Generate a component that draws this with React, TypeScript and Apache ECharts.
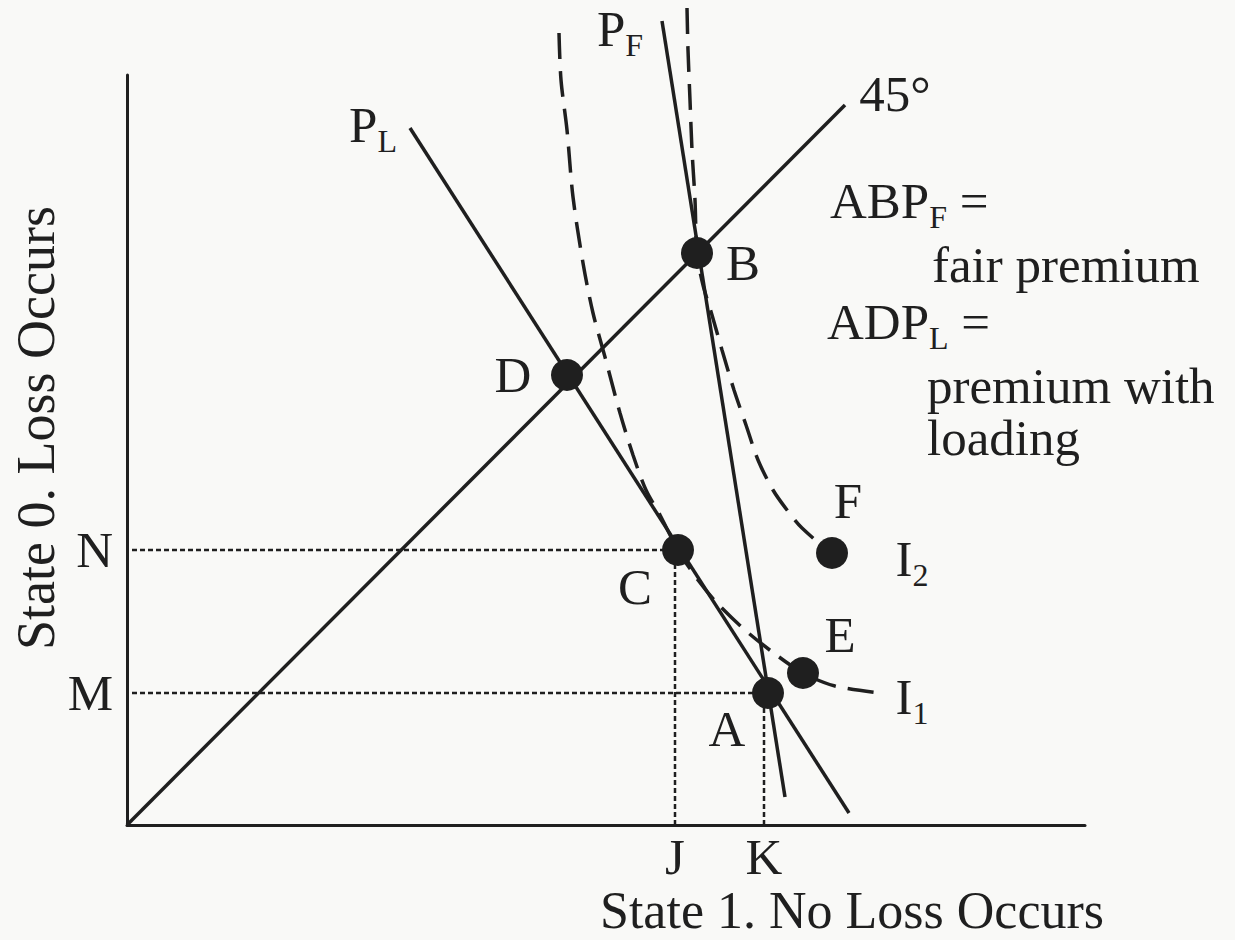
import React, { useEffect, useRef } from 'react';
import * as echarts from 'echarts';

// ---- data (chart units: x = state 1 wealth, y = state 0 wealth) ----
const X_MAX = 958;
const Y_MAX = 750;

const X_TICK_VALUES = [548, 637];
const X_TICK_LABELS = ['J', 'K'];
const Y_TICK_VALUES = [275, 132];
const Y_TICK_LABELS = ['N', 'M'];

const LINE_45_X = [0, 718];
const LINE_45_Y = [0, 720];
const PL_X = [283, 722];
const PL_Y = [697, 12];
const PF_X = [535, 658];
const PF_Y = [804, 28];

const I1_X = [432, 434, 440, 446, 456, 466, 478, 493, 506, 519, 533, 551, 571, 590, 618, 648, 676, 708, 753];
const I1_Y = [792, 745, 695, 628, 562, 512, 468, 412, 370, 335, 310, 275, 245, 222, 195, 171, 152, 139, 132];
const I2_X = [560, 561, 563, 565, 568, 570, 576, 585, 595, 607, 619, 631, 646, 660, 675, 705, 723];
const I2_Y = [817, 775, 725, 675, 625, 572, 540, 510, 475, 435, 400, 365, 335, 315, 297, 272, 265];

const DOT_LABELS = ['A', 'B', 'C', 'D', 'E', 'F'];
const DOT_X = [641, 570, 551, 440, 676, 705];
const DOT_Y = [132, 572, 275, 450, 152, 272];

const CURVE_LABELS = ['{m|P}{s|L}', '{m|P}{s|F}', '{m|45°}', '{m|I}{s|2}', '{m|I}{s|1}'];
const CURVE_LABEL_X = [246, 493, 768, 785, 785];
const CURVE_LABEL_Y = [697, 793, 728, 263, 125];

const X_TITLE = 'State 1. No Loss Occurs';
const Y_TITLE = 'State 0. Loss Occurs';
const NOTE_LINES = ['{m|ABP}{s|F}{m| =}', 'fair premium', '{m|ADP}{s|L}{m| =}', 'premium with', 'loading'];

// ---- styles ----
const INK = '#1f1f1f';
const FONT = "'Liberation Serif', 'Times New Roman', serif";
const FS = 51;
const DOT_LABEL_OFFSETS: number[][] = [[-41, 36], [46, 10], [-43, 37], [-54, 0], [37, -38], [16, -52]];
const NOTE_POS: number[][] = [[830, 204], [932, 265], [827, 325], [927, 386], [927, 438]];

const RICH = {
  m: { fontSize: FS, lineHeight: 58, verticalAlign: 'top', fontFamily: FONT, color: INK, fill: INK },
  s: { fontSize: 32, lineHeight: 16, verticalAlign: 'bottom', fontFamily: FONT, color: INK, fill: INK },
};

const zip = (xs: number[], ys: number[]) => xs.map((x, i) => [x, ys[i]]);

function buildOption() {
  const solid = (name: string, xs: number[], ys: number[]) => ({
    type: 'line', name, data: zip(xs, ys), symbol: 'none', clip: false,
    lineStyle: { color: INK, width: 3.5 }, z: 3, emphasis: { disabled: true },
  });
  const dashed = (name: string, xs: number[], ys: number[]) => ({
    type: 'line', name, data: zip(xs, ys), symbol: 'none', clip: false, smooth: 0.3,
    lineStyle: { color: INK, width: 3.5, type: [26, 12] }, z: 3, emphasis: { disabled: true },
  });
  const cIdx = DOT_LABELS.indexOf('C');
  const aIdx = DOT_LABELS.indexOf('A');
  const guides = [
    [[5, Y_TICK_VALUES[0]], [DOT_X[cIdx], Y_TICK_VALUES[0]]],
    [[5, Y_TICK_VALUES[1]], [DOT_X[aIdx], Y_TICK_VALUES[1]]],
    [[X_TICK_VALUES[0], 0], [X_TICK_VALUES[0], DOT_Y[cIdx]]],
    [[X_TICK_VALUES[1], 0], [X_TICK_VALUES[1], DOT_Y[aIdx]]],
  ];
  const guideSeries = guides.map((d, i) => ({
    type: 'line', name: 'guide' + i, data: d, symbol: 'none', clip: false,
    lineStyle: { color: INK, width: 2.5, type: [5, 3] }, z: 2, emphasis: { disabled: true },
  }));

  return {
    animation: false,
    backgroundColor: '#f9f9f7',
    grid: { left: 127, top: 75, width: 958, height: 750, containLabel: false },
    xAxis: {
      type: 'value', min: 0, max: X_MAX, splitLine: { show: false },
      axisTick: { show: false },
      axisLine: { show: true, lineStyle: { color: INK, width: 3 } },
      axisLabel: {
        customValues: X_TICK_VALUES,
        formatter: (v: number) => X_TICK_LABELS[X_TICK_VALUES.indexOf(v)] ?? '',
        fontSize: FS, fontFamily: FONT, color: INK, margin: 6,
      },
    },
    yAxis: {
      type: 'value', min: 0, max: Y_MAX, splitLine: { show: false },
      axisTick: { show: false },
      axisLine: { show: true, lineStyle: { color: INK, width: 3 } },
      axisLabel: {
        customValues: Y_TICK_VALUES,
        formatter: (v: number) => Y_TICK_LABELS[Y_TICK_VALUES.indexOf(v)] ?? '',
        fontSize: FS, fontFamily: FONT, color: INK, margin: 14,
      },
    },
    series: [
      ...guideSeries,
      solid('45°', LINE_45_X, LINE_45_Y),
      solid('P_L', PL_X, PL_Y),
      solid('P_F', PF_X, PF_Y),
      dashed('I_1', I1_X, I1_Y),
      dashed('I_2', I2_X, I2_Y),
      {
        type: 'scatter', name: 'points', symbol: 'circle', symbolSize: 32, clip: false, z: 5,
        itemStyle: { color: INK, opacity: 1 },
        emphasis: { disabled: true },
        data: DOT_X.map((x, i) => ({
          value: [x, DOT_Y[i]], name: DOT_LABELS[i],
          label: { offset: DOT_LABEL_OFFSETS[i] },
        })),
        label: {
          show: true, position: 'inside', formatter: '{b}', fontSize: FS, fontFamily: FONT, color: INK,
          align: 'center', verticalAlign: 'middle', opacity: 1,
        },
      },
      {
        type: 'scatter', name: 'curve labels', symbolSize: 0, clip: false, z: 5,
        itemStyle: { color: INK, opacity: 1 },
        emphasis: { disabled: true },
        data: CURVE_LABEL_X.map((x, i) => ({ value: [x, CURVE_LABEL_Y[i]], name: CURVE_LABELS[i] })),
        label: {
          show: true, position: 'inside', formatter: '{b}', rich: RICH,
          align: 'center', verticalAlign: 'middle', color: INK, opacity: 1,
        },
      },
    ],
    graphic: [
      {
        type: 'text', x: 36, y: 428, rotation: Math.PI / 2,
        style: {
          text: Y_TITLE, fontSize: 54, fontFamily: FONT, fill: INK,
          align: 'center', verticalAlign: 'middle', textAlign: 'center', textVerticalAlign: 'middle',
        },
      },
      {
        type: 'text', x: 852, y: 910,
        style: {
          text: X_TITLE, fontSize: 52, fontFamily: FONT, fill: INK,
          align: 'center', verticalAlign: 'middle', textAlign: 'center', textVerticalAlign: 'middle',
        },
      },
      ...NOTE_LINES.map((t, i) => ({
        type: 'text', x: NOTE_POS[i][0], y: NOTE_POS[i][1],
        style: t.includes('{')
          ? {
              text: t, rich: RICH, fontSize: FS, fontFamily: FONT, fill: INK,
              align: 'left', verticalAlign: 'middle', textAlign: 'left', textVerticalAlign: 'middle',
            }
          : {
              text: t, fontSize: FS, fontFamily: FONT, fill: INK, lineHeight: 38,
              align: 'left', verticalAlign: 'middle', textAlign: 'left', textVerticalAlign: 'middle',
            },
      })),
    ],
  };
}

export default function App() {
  const ref = useRef<HTMLDivElement>(null);
  useEffect(() => {
    const chart = echarts.init(ref.current!, null, { renderer: 'svg' });
    chart.setOption(buildOption() as any);
    return () => chart.dispose();
  }, []);
  return (
    <div
      ref={ref}
      style={{ position: 'fixed', left: 0, top: 0, width: 1235, height: 940, background: '#f9f9f7' }}
    />
  );
}
